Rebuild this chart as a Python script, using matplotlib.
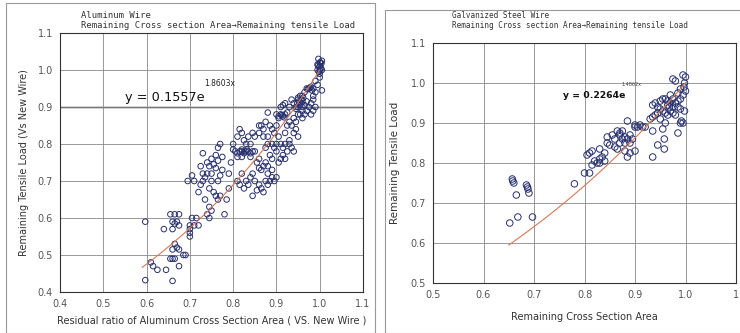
import matplotlib
matplotlib.use("Agg")
import matplotlib.pyplot as plt
import numpy as np
from matplotlib.patches import Rectangle

# Aluminum wire: remaining cross section area vs remaining tensile load
al_x = [0.597, 0.597, 0.61, 0.615, 0.625, 0.645, 0.64, 0.655, 0.665, 0.675,
        0.66, 0.665, 0.67, 0.66, 0.675, 0.665, 0.67, 0.66, 0.66, 0.665,
        0.675, 0.655, 0.685, 0.675, 0.66, 0.69, 0.70, 0.70, 0.70, 0.70,
        0.71, 0.715, 0.72, 0.705,
        0.695, 0.705, 0.71, 0.72, 0.725, 0.73, 0.73, 0.735, 0.735, 0.725,
        0.73, 0.74, 0.745, 0.75, 0.755, 0.76, 0.765, 0.77, 0.74, 0.745,
        0.75, 0.745, 0.745, 0.75, 0.755, 0.76, 0.765, 0.77, 0.765, 0.77,
        0.775, 0.78, 0.75, 0.74, 0.76, 0.765, 0.775, 0.785, 0.79, 0.79,
        0.795, 0.80, 0.80,
        0.805, 0.81, 0.815, 0.82, 0.825, 0.83, 0.835, 0.84, 0.845, 0.85,
        0.81, 0.82, 0.84, 0.81, 0.815, 0.82, 0.825, 0.83, 0.835, 0.84,
        0.845, 0.85, 0.81, 0.815, 0.82, 0.825, 0.83, 0.835, 0.84, 0.845,
        0.85, 0.855, 0.86, 0.865, 0.87, 0.875, 0.88, 0.885, 0.89, 0.895,
        0.90, 0.845, 0.86, 0.855, 0.86, 0.865, 0.87, 0.875, 0.88,
        0.86, 0.865, 0.87, 0.875, 0.88, 0.885, 0.89, 0.895, 0.90, 0.86,
        0.87, 0.88, 0.89, 0.895, 0.90, 0.90, 0.905, 0.91, 0.915, 0.92,
        0.925, 0.93, 0.875, 0.88, 0.885, 0.89, 0.88, 0.89,
        0.90, 0.905, 0.91, 0.915, 0.92, 0.925, 0.91, 0.915, 0.92, 0.93,
        0.935, 0.94, 0.945, 0.95, 0.955, 0.96, 0.955, 0.96, 0.965, 0.97,
        0.975, 0.98, 0.985, 0.99, 0.93, 0.935, 0.94, 0.945, 0.95, 0.955,
        0.96, 0.965, 0.97, 0.975, 0.98, 0.985, 0.99, 0.94, 0.945, 0.95,
        0.93, 0.92, 0.925, 0.935, 0.94, 0.92, 0.91, 0.915, 0.905,
        0.995, 1.0, 1.005, 1.0, 0.995, 1.005, 1.0, 0.998, 1.003, 1.0,
        0.997, 1.002, 0.99, 0.995, 1.005, 0.985, 0.98, 0.985,
        0.95, 0.955, 0.96, 0.945, 0.95, 0.965, 0.97, 0.96,
        0.952, 0.958, 0.948, 0.962, 0.905, 0.912, 0.918, 0.972, 0.978, 0.982,
        0.82, 0.826, 0.832, 0.999, 1.001, 0.996, 1.004]
al_y = [0.59, 0.432, 0.48, 0.47, 0.46, 0.46, 0.57, 0.61, 0.61, 0.61,
        0.59, 0.585, 0.59, 0.57, 0.58, 0.53, 0.52, 0.515, 0.49, 0.49,
        0.515, 0.49, 0.50, 0.47, 0.43, 0.50, 0.56, 0.55, 0.57, 0.58,
        0.58, 0.60, 0.58, 0.60,
        0.70, 0.715, 0.70, 0.67, 0.69, 0.70, 0.72, 0.71, 0.65, 0.74,
        0.775, 0.75, 0.74, 0.76, 0.745, 0.77, 0.79, 0.80, 0.61, 0.63,
        0.62, 0.60, 0.68, 0.70, 0.67, 0.66, 0.65, 0.66, 0.70, 0.715,
        0.73, 0.61, 0.72, 0.72, 0.735, 0.755, 0.765, 0.65, 0.68, 0.72,
        0.75, 0.80, 0.785,
        0.78, 0.775, 0.78, 0.78, 0.775, 0.78, 0.78, 0.775, 0.78, 0.78,
        0.765, 0.765, 0.765, 0.82, 0.84, 0.83, 0.81, 0.80, 0.82, 0.80,
        0.83, 0.82, 0.70, 0.69, 0.72, 0.68, 0.70, 0.69, 0.71, 0.72,
        0.70, 0.675, 0.69, 0.68, 0.67, 0.70, 0.69, 0.70, 0.71, 0.70,
        0.71, 0.66, 0.735, 0.75, 0.76, 0.73, 0.74, 0.75, 0.72,
        0.85, 0.85, 0.84, 0.86, 0.885, 0.85, 0.84, 0.83, 0.85, 0.83,
        0.82, 0.82, 0.80, 0.79, 0.80, 0.78, 0.82, 0.80, 0.79, 0.80,
        0.78, 0.80, 0.79, 0.80, 0.77, 0.76, 0.74, 0.73,
        0.88, 0.87, 0.88, 0.875, 0.88, 0.885, 0.90, 0.905, 0.91, 0.90,
        0.92, 0.91, 0.90, 0.92, 0.91, 0.915, 0.93, 0.93, 0.94, 0.95,
        0.95, 0.955, 0.95, 0.94, 0.86, 0.85, 0.87, 0.86, 0.88, 0.88,
        0.87, 0.88, 0.89, 0.90, 0.88, 0.89, 0.90, 0.83, 0.84, 0.82,
        0.81, 0.83, 0.85, 0.79, 0.78, 0.76, 0.76, 0.77, 0.75,
        1.00, 1.01, 1.00, 1.02, 1.015, 1.025, 0.99, 0.995, 1.005, 0.98,
        1.03, 1.02, 0.97, 0.96, 0.945, 0.93, 0.91, 0.92,
        0.90, 0.905, 0.90, 0.895, 0.925, 0.905, 0.915, 0.89,
        0.915, 0.92, 0.91, 0.925, 0.875, 0.878, 0.872, 0.948, 0.952, 0.945,
        0.785, 0.78, 0.785, 1.008, 0.998, 1.012, 1.018]

# Galvanized steel wire
gs_x = [0.657, 0.658, 0.66, 0.665, 0.652, 0.668, 0.685, 0.687, 0.688, 0.69,
        0.697, 0.78,
        0.80, 0.81, 0.805, 0.81, 0.815, 0.82, 0.815, 0.825, 0.83, 0.83,
        0.835, 0.84, 0.83, 0.84, 0.845, 0.845, 0.85, 0.855, 0.86, 0.865,
        0.87, 0.875, 0.88, 0.885, 0.86, 0.865, 0.87, 0.875, 0.88, 0.88,
        0.885, 0.89, 0.89, 0.895, 0.90, 0.90, 0.905, 0.91, 0.915, 0.92,
        0.885, 0.90, 0.87, 0.89,
        0.935, 0.94, 0.945, 0.95, 0.955, 0.96, 0.965, 0.97, 0.975, 0.98,
        0.985, 0.99, 0.995, 1.0, 0.998, 0.997, 1.0, 0.995, 0.99, 0.985,
        0.98, 0.975, 0.97, 0.965, 0.96, 0.955, 0.95, 0.945, 0.94, 0.935,
        0.93, 0.95, 0.96, 0.955, 0.985, 0.99, 0.995, 0.992, 0.998, 0.99,
        0.985, 0.975, 0.965, 0.97, 0.935, 0.945, 0.935, 0.958, 0.958, 0.98,
        0.975, 0.968]
gs_y = [0.76, 0.755, 0.75, 0.72, 0.65, 0.665, 0.745, 0.74, 0.735, 0.725,
        0.665, 0.748,
        0.775, 0.775, 0.82, 0.825, 0.83, 0.805, 0.795, 0.80, 0.81, 0.80,
        0.815, 0.805, 0.835, 0.825, 0.85, 0.865, 0.845, 0.87, 0.86, 0.88,
        0.875, 0.88, 0.865, 0.86, 0.84, 0.835, 0.85, 0.86, 0.85, 0.83,
        0.815, 0.825, 0.85, 0.86, 0.89, 0.895, 0.89, 0.895, 0.89, 0.89,
        0.905, 0.83, 0.87, 0.87,
        0.945, 0.95, 0.94, 0.955, 0.96, 0.96, 0.955, 0.97, 1.01, 1.005,
        0.975, 0.985, 1.02, 1.015, 1.0, 0.99, 0.98, 0.97, 0.96, 0.955,
        0.95, 0.94, 0.93, 0.92, 0.925, 0.93, 0.935, 0.925, 0.92, 0.915,
        0.91, 0.91, 0.90, 0.885, 0.875, 0.90, 0.90, 0.905, 0.93, 0.935,
        0.94, 0.96, 0.945, 0.95, 0.88, 0.845, 0.815, 0.835, 0.86, 0.92,
        0.925, 0.94]

# fitted trend lines y = a * exp(b * x), shown on the charts
al_fit = (0.1557, 1.8603, 0.59, 1.0)
gs_fit = (0.2264, 1.4862, 0.65, 1.0)

al_ticks = [0.4, 0.5, 0.6, 0.7, 0.8, 0.9, 1.0, 1.1]
gs_xticks = [0.5, 0.6, 0.7, 0.8, 0.9, 1.0, 1.1]
gs_yticks = [0.5, 0.6, 0.7, 0.8, 0.9, 1.0, 1.1]

marker_color = "#27306e"
line_color = "#d47a55"
text_color = "#333333"

fig = plt.figure(figsize=(7.4, 3.33), dpi=100)
fig.patch.set_facecolor("white")

# panel frames
fig.add_artist(Rectangle((6 / 740, 0.0), 369 / 740, 1 - 3 / 333,
                         transform=fig.transFigure, fill=False,
                         edgecolor="#999999", linewidth=0.8))
fig.add_artist(Rectangle((385 / 740, 0.0), 360 / 740, 1 - 10 / 333,
                         transform=fig.transFigure, fill=False,
                         edgecolor="#999999", linewidth=0.8))

ax_al = fig.add_axes([60 / 740, 1 - 292 / 333, 303 / 740, 259 / 333])
ax_gs = fig.add_axes([433 / 740, 1 - 283 / 333, 303 / 740, 240 / 333])


def style_axes(ax, xticks, yticks, dark_y=None):
    ax.set_xlim(xticks[0], xticks[-1])
    ax.set_ylim(yticks[0], yticks[-1])
    ax.set_xticks(xticks)
    ax.set_yticks(yticks)
    ax.set_xticklabels([f"{t:.1f}" for t in xticks])
    ax.set_yticklabels([f"{t:.1f}" for t in yticks])
    ax.tick_params(length=0, labelsize=7, labelcolor="#555555", pad=5)
    ax.grid(True, color="#888888", linewidth=0.6)
    ax.set_axisbelow(True)
    for s in ax.spines.values():
        s.set_color("#333333")
        s.set_linewidth(0.8)
    if dark_y is not None:
        ax.axhline(dark_y, color="#222222", linewidth=1.0, zorder=0.5)


# Aluminum panel
style_axes(ax_al, al_ticks, al_ticks, dark_y=0.9)
ax_al.scatter(al_x, al_y, s=16, facecolors="none", edgecolors=marker_color,
              linewidths=0.7, zorder=3)
a, b, x0, x1 = al_fit
fx = np.linspace(x0, x1, 50)
ax_al.plot(fx, a * np.exp(b * fx), color=line_color, linewidth=0.8, zorder=4)
ax_al.text(0.55, 0.927, "y = 0.1557e", fontsize=9.3, color="#111111",
           va="center", ha="left")
ax_al.text(0.733, 0.963, "1.8603x", fontsize=5.5, color="#222222",
           va="center", ha="left")
ax_al.set_xlabel("Residual ratio of Aluminum Cross Section Area ( VS. New Wire )",
                 fontsize=7, color=text_color, labelpad=5)
ax_al.set_ylabel("Remaining Tensile Load (Vs New Wire)", fontsize=7,
                 color=text_color, labelpad=6)
fig.text(81 / 740, 1 - 15 / 333, "Aluminum Wire", fontsize=6.4,
         family="DejaVu Sans Mono", color=text_color, va="center")
fig.text(81 / 740, 1 - 26 / 333,
         "Remaining Cross section Area\u2192Remaining tensile Load",
         fontsize=6.4, family="DejaVu Sans Mono", color=text_color, va="center")

# Galvanized steel panel
style_axes(ax_gs, gs_xticks, gs_yticks)
ax_gs.set_xticklabels([f"{t:.1f}" for t in gs_xticks[:-1]] + ["1"])
ax_gs.scatter(gs_x, gs_y, s=22, facecolors="none", edgecolors=marker_color,
              linewidths=0.7, zorder=3)
a, b, x0, x1 = gs_fit
fx = np.linspace(x0, x1, 50)
ax_gs.plot(fx, a * np.exp(b * fx), color=line_color, linewidth=0.8, zorder=4)
ax_gs.text(0.758, 0.97, "y = 0.2264e", fontsize=6.7, fontweight="bold",
           color="#111111", va="center", ha="left")
ax_gs.text(0.874, 0.997, "1.4862x", fontsize=3.5, color="#444444",
           va="center", ha="left")
ax_gs.set_xlabel("Remaining Cross Section Area", fontsize=7, color=text_color,
                 labelpad=9)
ax_gs.set_ylabel("Remaining Tensile Load", fontsize=7.5, color=text_color,
                 labelpad=8)
fig.text(452 / 740, 1 - 15 / 333, "Galvanized Steel Wire", fontsize=5.5,
         family="DejaVu Sans Mono", color=text_color, va="center")
fig.text(452 / 740, 1 - 25 / 333,
         "Remaining Cross section Area\u2192Remaining tensile Load",
         fontsize=5.5, family="DejaVu Sans Mono", color=text_color, va="center")

fig.savefig("out.png", dpi=100)
